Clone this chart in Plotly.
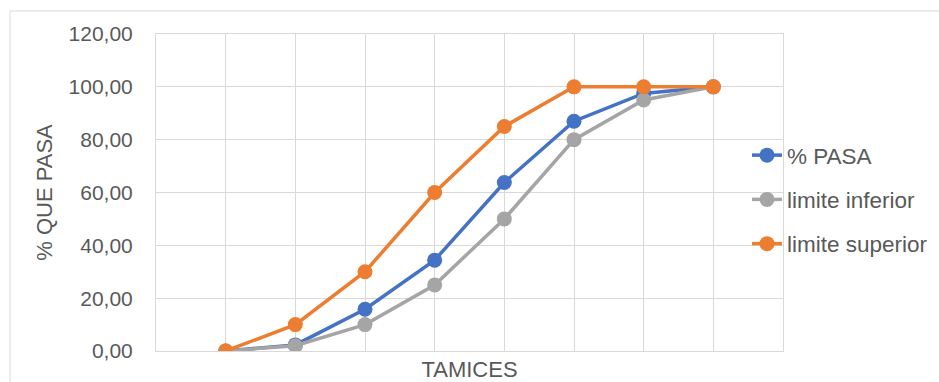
import plotly.graph_objects as go

# Sieve sequence (ordinal position of each sieve along the curve)
tamices = [1, 2, 3, 4, 5, 6, 7, 8]

# Percent passing for the sample and the specification band
pct_pasa = [0.0, 2.3, 15.8, 34.4, 63.8, 87.0, 97.5, 100.0]
limite_inferior = [0.0, 2.0, 10.0, 25.0, 50.0, 80.0, 95.0, 100.0]
limite_superior = [0.0, 10.0, 30.0, 60.0, 85.0, 100.0, 100.0, 100.0]

series = [
    ("% PASA", pct_pasa, "#4472C4"),
    ("limite inferior", limite_inferior, "#A5A5A5"),
    ("limite superior", limite_superior, "#ED7D31"),
]

FONT = "Liberation Sans"
TEXT = "#595959"
GRID = "#D9D9D9"

fig = go.Figure()
for name, values, color in series:
    fig.add_trace(go.Scatter(
        x=tamices, y=values, name=name, mode="lines+markers",
        legendgroup=name,
        line=dict(color=color, width=3.5),
        marker=dict(color=color, size=15),
        hoverinfo="skip",
    ))

W, H = 939, 382
L, R, T, B = 156, 156, 34, 31
pw, ph = W - L - R, H - T - B

fig.update_layout(
    width=W, height=H,
    margin=dict(l=L, r=R, t=T, b=B, pad=0, autoexpand=False),
    paper_bgcolor="white", plot_bgcolor="white",
    separators=",.",
    font=dict(family=FONT, size=21, color=TEXT),
    showlegend=True,
    legend=dict(
        x=(747 - L) / pw, xanchor="left",
        y=(H - B - 134) / ph, yanchor="top",
        bgcolor="rgba(0,0,0,0)",
        font=dict(family=FONT, size=22.5, color=TEXT),
        tracegroupgap=12,
        itemsizing="trace",
    ),
    xaxis=dict(
        range=[0, 9], dtick=1, tick0=0,
        showticklabels=False, ticks="",
        showgrid=True, gridcolor=GRID, gridwidth=1,
        zeroline=False, automargin=False,
        showline=True, linecolor=GRID, linewidth=1, mirror=True,
        title=dict(text="TAMICES", standoff=12,
                   font=dict(family=FONT, size=22, color=TEXT)),
        fixedrange=True,
    ),
    yaxis=dict(
        range=[0, 120], dtick=20,
        tickformat=".2f",
        ticks="", ticklabelstandoff=18,
        showgrid=True, gridcolor=GRID, gridwidth=1,
        zeroline=False, automargin=False,
        showline=True, linecolor=GRID, linewidth=1, mirror=True,
        title=dict(text="% QUE PASA", standoff=9,
                   font=dict(family=FONT, size=22, color=TEXT)),
        tickfont=dict(family=FONT, size=21, color=TEXT),
        fixedrange=True,
    ),
    shapes=[dict(
        type="rect", xref="paper", yref="paper", layer="below",
        x0=(10 - L) / pw, x1=(W + 10 - L) / pw,
        y0=(H - B - (H + 10)) / ph, y1=(H - B - 11) / ph,
        line=dict(color=GRID, width=1), fillcolor="rgba(0,0,0,0)",
    )],
)

fig.write_html("out.html", config={"displayModeBar": False})
